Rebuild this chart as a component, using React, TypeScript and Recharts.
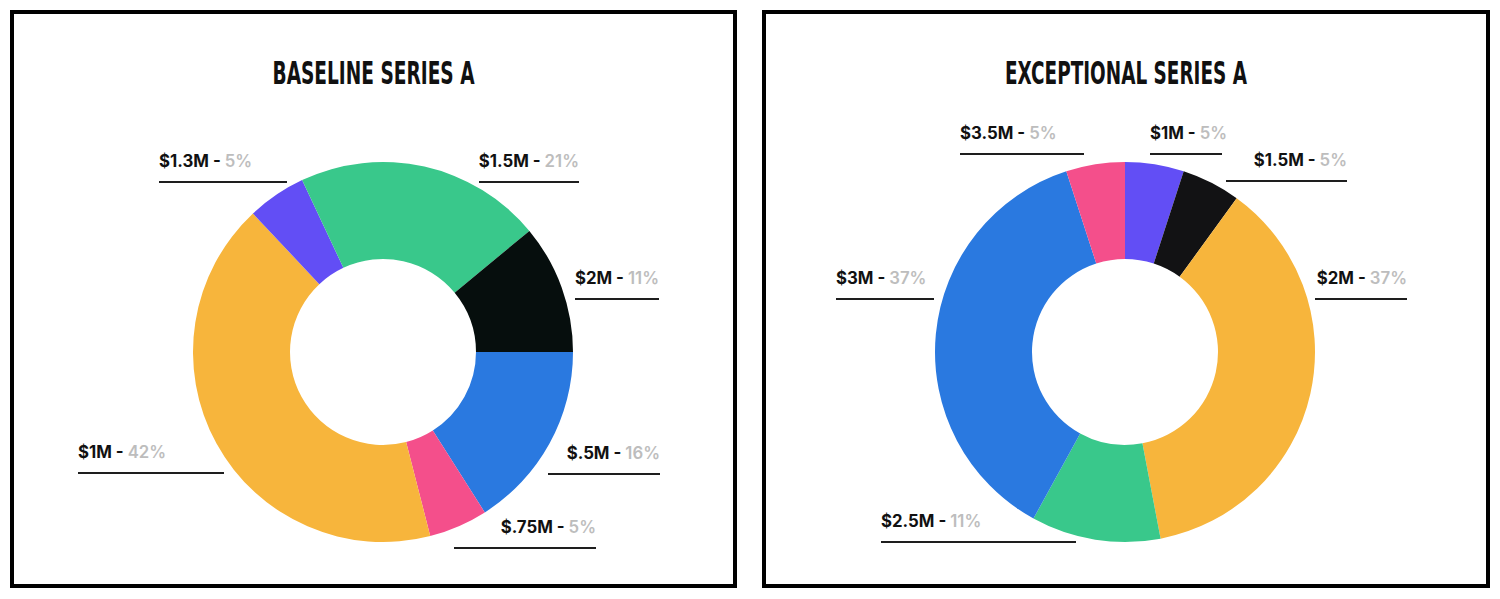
import { Cell, Pie, PieChart } from 'recharts';

// Baseline series A: raise size buckets and share of rounds (%)
const baselineCategories = ['$.5M', '$.75M', '$1M', '$1.3M', '$1.5M', '$2M'];
const baselineValues = [16, 5, 42, 5, 21, 11];

// Exceptional series A
const exceptionalCategories = ['$1M', '$1.5M', '$2M', '$2.5M', '$3M', '$3.5M'];
const exceptionalValues = [5, 5, 37, 11, 37, 5];

const baselineColors = ['#2A79E0', '#F44F8B', '#F7B53C', '#624EF5', '#39C88B', '#060E0D'];
const exceptionalColors = ['#624EF5', '#121214', '#F7B53C', '#39C88B', '#2A79E0', '#F44F8B'];

type LabelSpot = { y: number; x0: number; x1: number; anchor: 'start' | 'end' };

// leader-line placement, relative to the donut centre
const baselineLabelSpots: LabelSpot[] = [
  { y: 122, x0: 165, x1: 277, anchor: 'end' },
  { y: 196, x0: 71, x1: 213, anchor: 'end' },
  { y: 121, x0: -305, x1: -159, anchor: 'start' },
  { y: -170, x0: -224, x1: -96, anchor: 'start' },
  { y: -170, x0: 96, x1: 196, anchor: 'end' },
  { y: -53, x0: 192, x1: 276, anchor: 'end' },
];

const exceptionalLabelSpots: LabelSpot[] = [
  { y: -198, x0: 25, x1: 97, anchor: 'start' },
  { y: -171, x0: 101, x1: 222, anchor: 'end' },
  { y: -53, x0: 190, x1: 282, anchor: 'end' },
  { y: 190, x0: -244, x1: -49, anchor: 'start' },
  { y: -53, x0: -289, x1: -191, anchor: 'start' },
  { y: -198, x0: -165, x1: -41, anchor: 'start' },
];

const makeLabel = (categories: string[], spots: LabelSpot[]) => (props: any) => {
  const name = props.name ?? props.payload?.name;
  const i = categories.indexOf(name);
  const spot = spots[i];
  if (!spot) return null;
  const { cx, cy } = props;
  const ly = cy + spot.y;
  const tx = spot.anchor === 'start' ? cx + spot.x0 : cx + spot.x1;
  return (
    <g>
      <line x1={cx + spot.x0} x2={cx + spot.x1} y1={ly} y2={ly} stroke="#1E1E1E" strokeWidth={2} />
      <text
        x={tx}
        y={ly - 15}
        textAnchor={spot.anchor}
        fontFamily="Inter, 'Noto Sans', sans-serif"
        fontSize={16.8}
      >
        <tspan fill="#111111" fontWeight={700}>{`${name} - `}</tspan>
        <tspan fill="#BDBDBD" fontWeight={600}>{`${props.value}%`}</tspan>
      </text>
    </g>
  );
};

interface DonutPanelProps {
  title: string;
  titleWidth: number;
  categories: string[];
  values: number[];
  colors: string[];
  spots: LabelSpot[];
  left: number;
  width: number;
  cx: number;
  startAngle: number;
}

function DonutPanel({
  title,
  titleWidth,
  categories,
  values,
  colors,
  spots,
  left,
  width,
  cx,
  startAngle,
}: DonutPanelProps) {
  const data = categories.map((name, i) => ({ name, value: values[i] }));
  const innerW = width - 8;
  return (
    <div
      style={{
        position: 'absolute',
        left,
        top: 2,
        width,
        height: 578,
        border: '4px solid #000',
        boxSizing: 'border-box',
        background: '#fff',
      }}
    >
      <svg width={innerW} height={100} style={{ position: 'absolute', left: 0, top: 0 }}>
        <text
          x={innerW / 2}
          y={69.5}
          textAnchor="middle"
          textLength={titleWidth}
          lengthAdjust="spacingAndGlyphs"
          fontFamily="'Liberation Sans Narrow', 'DejaVu Sans Condensed', sans-serif"
          fontWeight={700}
          fontSize={32}
          fill="#111"
        >
          {title}
        </text>
      </svg>
      <div style={{ position: 'absolute', left: 0, top: 0 }}>
        <PieChart width={innerW} height={570} margin={{ top: 0, right: 0, bottom: 0, left: 0 }}>
          <Pie
            data={data}
            dataKey="value"
            nameKey="name"
            cx={cx}
            cy={338}
            innerRadius={93}
            outerRadius={190}
            startAngle={startAngle}
            endAngle={startAngle - 360}
            stroke="none"
            label={makeLabel(categories, spots)}
            labelLine={false}
            isAnimationActive={false}
          >
            {data.map((d, i) => (
              <Cell key={d.name} fill={colors[i]} />
            ))}
          </Pie>
        </PieChart>
      </div>
    </div>
  );
}

export default function App() {
  return (
    <div style={{ position: 'relative', width: 1484, height: 583 }}>
      <DonutPanel
        title="BASELINE SERIES A"
        titleWidth={202}
        categories={baselineCategories}
        values={baselineValues}
        colors={baselineColors}
        spots={baselineLabelSpots}
        left={2}
        width={727}
        cx={369}
        startAngle={0}
      />
      <DonutPanel
        title="EXCEPTIONAL SERIES A"
        titleWidth={242}
        categories={exceptionalCategories}
        values={exceptionalValues}
        colors={exceptionalColors}
        spots={exceptionalLabelSpots}
        left={754}
        width={728}
        cx={359}
        startAngle={90}
      />
    </div>
  );
}
